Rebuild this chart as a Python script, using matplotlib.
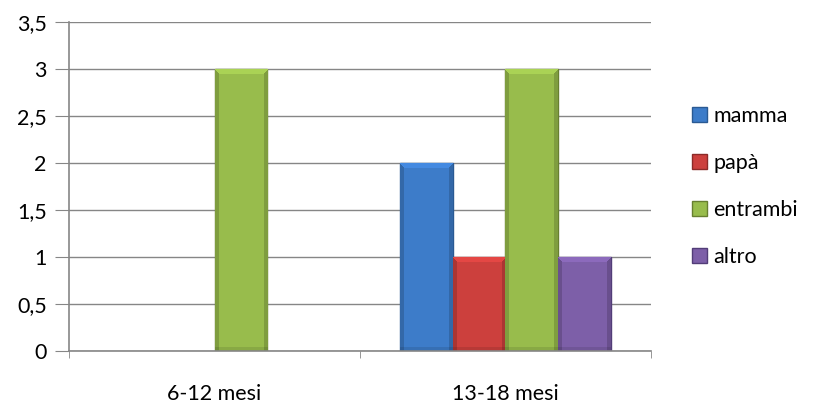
import matplotlib
matplotlib.use("Agg")
import matplotlib.pyplot as plt
import numpy as np
from matplotlib.patches import Patch
from matplotlib.ticker import FuncFormatter
from matplotlib.colors import to_rgb

# data
categories = ["6-12 mesi", "13-18 mesi"]
series = ["mamma", "papà", "entrambi", "altro"]
mamma = [0, 2]
papa = [0, 1]
entrambi = [3, 3]
altro = [0, 1]
values = [mamma, papa, entrambi, altro]

colors = ["#3d7cc9", "#cc403d", "#98bc4c", "#7d5fa8"]
edges = ["#2a5a93", "#8c2a28", "#677f30", "#523d78"]

plt.rcParams['font.family'] = ['Lato', 'DejaVu Sans']
FS = 15.5

fig = plt.figure(figsize=(8.15, 4.05), dpi=100)
ax = fig.add_axes([0.0847, 0.1333, 0.714, 0.8123])

x = np.arange(len(categories))
w = 1 / 5.5
ax.set_xlim(-0.5, 1.5)
ax.set_ylim(0, 3.5)


def bevel(base, nx, ny):
    # shaded bar image: darker sides and bottom, lighter top edge
    c = np.array(to_rgb(base))
    xs = np.linspace(0, 1, nx)
    ys = np.arange(ny)
    side = np.minimum(xs, 1 - xs) * nx
    f = np.ones((ny, nx)) * np.where(side < 4, 0.84, 1.0)[None, :]
    f[ys < 5, :] = np.where(side[None, :] >= ys[ys < 5, None], 1.12, 0.84)
    f[ys >= ny - 4, :] *= 0.9
    img = np.clip(c[None, None, :] * f[:, :, None], 0, 1)
    return img


for i, (name, vals) in enumerate(zip(series, values)):
    bars = ax.bar(x + (i - 1.5) * w, vals, w, color=colors[i], edgecolor=edges[i],
                  linewidth=1.0, label=name, zorder=3)
    for b, v in zip(bars, vals):
        if v == 0:
            b.set_visible(False)
            continue
        x0, y0 = b.get_x(), b.get_y()
        (px0, py0), (px1, py1) = ax.transData.transform([(x0, y0), (x0 + b.get_width(), y0 + b.get_height())])
        nx, ny = int(px1 - px0), int(py1 - py0)
        im = ax.imshow(bevel(colors[i], nx, ny), extent=(x0, x0 + b.get_width(), y0, y0 + b.get_height()),
                       aspect="auto", zorder=3.5, interpolation="nearest")
        im.set_clip_path(b)

ax.set_xlim(-0.5, 1.5)
ax.set_ylim(0, 3.5)
ax.set_yticks(np.arange(0, 3.51, 0.5))
ax.yaxis.set_major_formatter(FuncFormatter(lambda v, p: f"{v:g}".replace(".", ",")))
ax.grid(axis="y", color="#868686", linewidth=1, zorder=0)

ax.set_xticks(x)
ax.set_xticklabels(categories)
ax.set_xticks([-0.5, 0.5, 1.5], minor=True)
ax.tick_params(axis="x", which="major", length=0, pad=24, labelsize=FS)
ax.tick_params(axis="x", which="minor", length=5, color="#868686")
ax.tick_params(axis="y", length=10, color="#868686", labelsize=FS, pad=6)

for s in ["top", "right"]:
    ax.spines[s].set_visible(False)
for s in ["left", "bottom"]:
    ax.spines[s].set_color("#868686")
    ax.spines[s].set_linewidth(1.2)
ax.spines["bottom"].set_zorder(4)

handles = [Patch(facecolor=colors[i], edgecolor=edges[i], label=series[i]) for i in range(4)]
fig.legend(handles=handles, loc="center left", bbox_to_anchor=(0.849, 0.54),
           frameon=False, fontsize=FS, handlelength=0.7, handleheight=0.7,
           handletextpad=0.3, labelspacing=1.25, borderpad=0, borderaxespad=0)

fig.savefig("out.png", dpi=100)
